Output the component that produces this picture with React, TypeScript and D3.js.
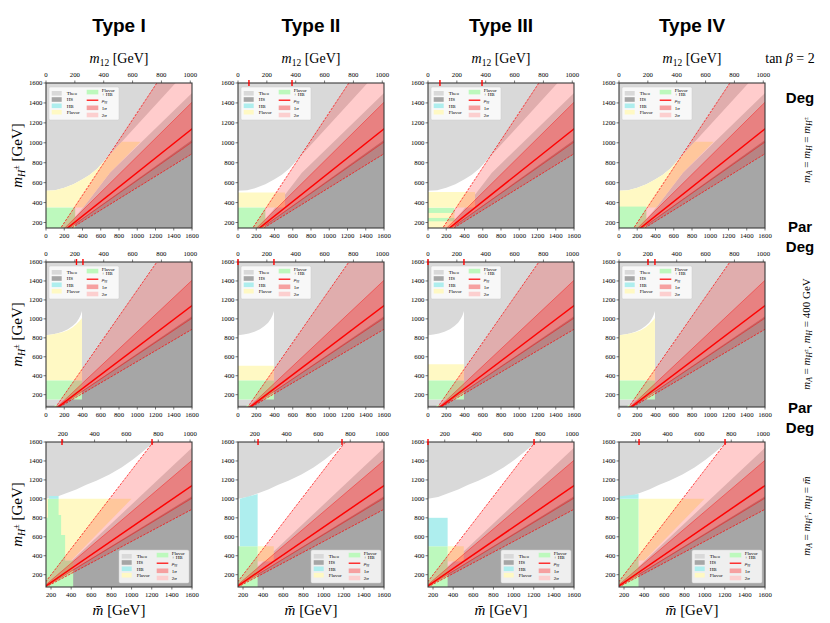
import React from "react";
import * as d3 from "d3";

type Pt = [number, number];

// layout
const colLefts = [46, 238, 428, 619];
const rowTops = [83, 262, 442];
const PW = 146;
const PH = 145;

const SERIF = "'Liberation Serif', 'DejaVu Serif', serif";
const SANS = "'Liberation Sans', Arial, sans-serif";

// labels
const types = ["Type I", "Type II", "Type III", "Type IV"];
const rowTags = [["Deg"], ["Par", "Deg"], ["Par", "Deg"]];
const tanBeta = 2;

// axes
const xDomains: Pt[] = [[0, 1600], [0, 1600], [150, 1600]];
const yDomains: Pt[] = [[145, 1600], [70, 1600], [70, 1600]];
const xTickVals = [
  [0, 200, 400, 600, 800, 1000, 1200, 1400, 1600],
  [0, 200, 400, 600, 800, 1000, 1200, 1400, 1600],
  [200, 400, 600, 800, 1000, 1200, 1400, 1600],
];
const yTickVals = [200, 400, 600, 800, 1000, 1200, 1400, 1600];
const m12TickVals = [
  [0, 200, 400, 600, 800, 1000],
  [0, 200, 400, 600, 800, 1000],
  [200, 400, 600, 800, 1000],
];
// red marks on the top axis (bottom-axis units)
const redMarks = [
  [[], [120, 592], [131, 592], []],
  [[334, 405], [0, 394], [0, 394], [318, 394]],
  [[309, 1203], [349, 1183], [150, 1203], [349, 1203]],
];

// mu_gammagamma bands: common pivot, end points of each edge
const pivot: Pt = [78, 30];
const muEnd: Pt = [1600, 1140];
const sig1UpEnd: Pt = [1600, 1407];
const sig1DnEnd: Pt = [1600, 1007];
const sig2UpEnd: Pt = [1215, 1600];
const sig2DnEnd: Pt = [1600, 890];
const hsEdgeEnd: Pt = [1600, 1027];
const hsFloor = [158, 85, 85];

// theory-allowed (white) region, per row
const theoAllowed: Pt[][] = [
  [[0, 150], [0, 520], [100, 525], [200, 548], [300, 585], [400, 635], [480, 680], [560, 740],
   [1420, 1600], [1600, 1600], [1600, 1500], [700, 700], [408, 350], [220, 150]],
  [[0, 150], [0, 828], [60, 835], [120, 845], [180, 865], [240, 890], [290, 925], [330, 960],
   [360, 1000], [380, 1040], [394, 1082], [394, 150]],
  [[150, 90], [150, 1000], [250, 1020], [350, 1060], [450, 1100], [550, 1150], [650, 1190],
   [780, 1257], [900, 1330], [1013, 1416], [1100, 1490], [1198, 1575], [1230, 1600],
   [1600, 1600], [1600, 1540]],
];

// Flavor (yellow) regions [row][col]
const flavor: Pt[][][][] = [
  [
    [[[0, 350], [0, 520], [100, 525], [200, 548], [300, 585], [400, 635], [480, 680], [560, 740],
      [830, 1010], [1037, 1010], [700, 700], [408, 350]]],
    [[[0, 350], [0, 500], [515, 500], [515, 350]]],
    [[[0, 350], [0, 505], [515, 505], [515, 350]], [[0, 145], [0, 350], [290, 350], [290, 145]]],
    [[[0, 350], [0, 520], [100, 525], [200, 548], [300, 585], [400, 635], [480, 680], [560, 740],
      [830, 1010], [1037, 1010], [700, 700], [408, 350]]],
  ],
  [
    [[[0, 350], [0, 828], [60, 835], [120, 845], [180, 860], [240, 880], [290, 910], [330, 940],
      [365, 975], [394, 1010], [394, 350]]],
    [[[0, 350], [0, 505], [394, 505], [394, 350]]],
    [[[0, 350], [0, 520], [394, 520], [394, 350]]],
    [[[0, 350], [0, 828], [60, 835], [120, 845], [180, 860], [240, 880], [290, 910], [330, 940],
      [365, 975], [394, 1010], [394, 350]]],
  ],
  [
    [[[150, 350], [150, 1000], [1000, 1000], [400, 350]]],
    [[[345, 340], [345, 500], [505, 500], [505, 340]]],
    [[[345, 340], [345, 500], [505, 500], [505, 340]]],
    [[[344, 350], [344, 1000], [1000, 1000], [400, 350]]],
  ],
];

// Flavor + HB (green) regions
const flavorHB: Pt[][][][] = [
  [
    [[[0, 145], [0, 350], [320, 350], [320, 145]]],
    [[[0, 145], [0, 350], [300, 350], [300, 145]]],
    [[[0, 296], [0, 347], [290, 347], [290, 296]], [[0, 212], [0, 246], [290, 246], [290, 212]]],
    [[[0, 145], [0, 360], [300, 360], [300, 145]]],
  ],
  [
    [[[0, 150], [0, 350], [394, 350], [394, 150]], [[95, 72], [95, 92], [125, 92], [125, 72]]],
    [[[0, 150], [0, 350], [394, 350], [394, 150]], [[95, 72], [95, 92], [125, 92], [125, 72]]],
    [[[0, 150], [0, 350], [394, 350], [394, 150]], [[95, 72], [95, 92], [125, 92], [125, 72]]],
    [[[0, 150], [0, 350], [394, 350], [394, 150]], [[95, 72], [95, 92], [125, 92], [125, 72]]],
  ],
  [
    [[[150, 70], [150, 800], [170, 800], [170, 1000], [275, 1000], [275, 830], [300, 830],
      [300, 620], [340, 620], [340, 350], [420, 350], [420, 70]]],
    [[[150, 70], [150, 500], [345, 500], [345, 70]]],
    [[[150, 70], [150, 500], [345, 500], [345, 70]]],
    [[[150, 70], [150, 1000], [344, 1000], [344, 70]]],
  ],
];

// HB (cyan) regions
const hb: Pt[][][][] = [
  [[], [], [], []],
  [[], [], [], []],
  [
    [[[180, 1000], [180, 1030], [275, 1030], [275, 1000]]],
    [[[168, 500], [168, 1000], [345, 1050], [345, 500]]],
    [[[150, 500], [150, 800], [345, 800], [345, 500]]],
    [[[150, 1000], [150, 1025], [344, 1050], [344, 1000]]],
  ],
];

const C = {
  theo: "#d9d9d9",
  hs: "#a6a6a6",
  hb: "#aeeeee",
  flavor: "#fff9c4",
  flavorHB: "#bdf9bd",
  red: "#ff0000",
  frame: "#3a3a3a",
};

const SQRT_SBCB = Math.sqrt(tanBeta / (1 + tanBeta * tanBeta));

function ext(end: Pt, xFar = 4000): Pt {
  const s = (end[1] - pivot[1]) / (end[0] - pivot[0]);
  return [xFar, pivot[1] + s * (xFar - pivot[0])];
}

function Legend({ lx, ly }: { lx: number; ly: number }) {
  const fs = 5;
  const left: [string, string, number][] = [
    ["Theo", C.theo, 6.3],
    ["HS", C.hs, 12.5],
    ["HB", C.hb, 18.8],
    ["Flavor", C.flavor, 25.2],
  ];
  return (
    <g transform={`translate(${lx},${ly})`} fontFamily={SERIF} fontSize={fs}>
      <rect width={70} height={33} rx={1.5} fill="#fff" fillOpacity={0.82} stroke="#cccccc" strokeWidth={0.5} />
      {left.map(([t, col, dy]) => (
        <g key={t}>
          <rect x={2.7} y={dy - 2.3} width={10} height={4.6} fill={col} />
          <text x={17.7} y={dy + 1.7}>{t}</text>
        </g>
      ))}
      <rect x={37.7} y={2.8} width={11.6} height={4.6} fill={C.flavorHB} />
      <text x={52.7} y={4.6}>Flavor</text>
      <text x={52.7} y={9.3}>+ HB</text>
      <line x1={37.7} x2={49.3} y1={13.2} y2={13.2} stroke={C.red} strokeWidth={1.2} />
      <text x={52.7} y={14.8}>
        <tspan fontStyle="italic">μ</tspan>
        <tspan fontSize={3.6} dy={1}>γγ</tspan>
      </text>
      <rect x={37.7} y={18.5} width={11.6} height={4.6} fill="#f6a0a0" />
      <text x={52.7} y={22.5}>1<tspan fontStyle="italic">σ</tspan></text>
      <rect x={37.7} y={25.7} width={11.6} height={4.6} fill="#fccfcf" />
      <text x={52.7} y={29.7}>2<tspan fontStyle="italic">σ</tspan></text>
    </g>
  );
}

function Panel({ r, c }: { r: number; c: number }) {
  const x0 = colLefts[c];
  const y0 = rowTops[r];
  const x = d3.scaleLinear().domain(xDomains[r]).range([x0, x0 + PW]);
  const y = d3.scaleLinear().domain(yDomains[r]).range([y0 + PH, y0]);
  const lineGen = d3
    .line<Pt>()
    .x((d) => x(d[0]))
    .y((d) => y(d[1]));
  const area = (pts: Pt[]) => (lineGen(pts) || "") + "Z";
  const id = `clip-${r}-${c}`;
  const yBottom = yDomains[r][0];
  const legendX = r < 2 ? x0 + 3 : x0 + PW - 73;
  const legendY = r < 2 ? y0 + 4 : y0 + PH - 37;

  return (
    <g>
      <defs>
        <clipPath id={id}>
          <rect x={x0} y={y0} width={PW} height={PH} />
        </clipPath>
      </defs>
      <g clipPath={`url(#${id})`}>
        <rect x={x0} y={y0} width={PW} height={PH} fill={C.theo} />
        <path d={area(theoAllowed[r])} fill="#fff" />
        <path d={area([pivot, ext(hsEdgeEnd), [4000, -2000], [-2000, -2000]])} fill={C.hs} />
        <rect x={x0} y={y(hsFloor[r])} width={PW} height={y(yBottom) - y(hsFloor[r])} fill={C.hs} />
        {flavor[r][c].map((p, i) => <path key={"f" + i} d={area(p)} fill={C.flavor} />)}
        {flavorHB[r][c].map((p, i) => <path key={"g" + i} d={area(p)} fill={C.flavorHB} />)}
        {hb[r][c].map((p, i) => <path key={"h" + i} d={area(p)} fill={C.hb} />)}
        <path d={area([pivot, ext(sig2UpEnd), ext(sig2DnEnd)])} fill={C.red} fillOpacity={0.2} />
        <path d={area([pivot, ext(sig1UpEnd), ext(sig1DnEnd)])} fill={C.red} fillOpacity={0.25} />
        {[sig2UpEnd, sig2DnEnd].map((e, i) => (
          <path key={"d" + i} d={lineGen([pivot, ext(e)]) || ""} fill="none" stroke={C.red}
            strokeWidth={0.7} strokeDasharray="2.5,1.2" />
        ))}
        {[sig1UpEnd, sig1DnEnd].map((e, i) => (
          <path key={"s" + i} d={lineGen([pivot, ext(e)]) || ""} fill="none" stroke={C.red}
            strokeWidth={0.5} strokeOpacity={0.8} />
        ))}
        <path d={lineGen([pivot, ext(muEnd)]) || ""} fill="none" stroke={C.red} strokeWidth={1.5} />
      </g>
      <rect x={x0} y={y0} width={PW} height={PH} fill="none" stroke={C.frame} strokeWidth={1.1} />

      {/* left axis */}
      {yTickVals.map((v) => (
        <g key={"y" + v}>
          <line x1={x0 - 2.5} x2={x0} y1={y(v)} y2={y(v)} stroke={C.frame} strokeWidth={0.7} />
          <text x={x0 - 3.5} y={y(v) + 2.3} textAnchor="end" fontSize={6.8}>{v}</text>
        </g>
      ))}
      {/* bottom axis */}
      {xTickVals[r].map((v) => (
        <g key={"x" + v}>
          <line x1={x(v)} x2={x(v)} y1={y0 + PH} y2={y0 + PH + 2.5} stroke={C.frame} strokeWidth={0.7} />
          <text x={x(v)} y={y0 + PH + 9.8} textAnchor="middle" fontSize={6.8}>{v}</text>
        </g>
      ))}
      {/* top axis: m12 */}
      {m12TickVals[r].map((v) => (
        <g key={"t" + v}>
          <line x1={x(v / SQRT_SBCB)} x2={x(v / SQRT_SBCB)} y1={y0 - 2.5} y2={y0} stroke={C.frame} strokeWidth={0.7} />
          <text x={x(v / SQRT_SBCB)} y={y0 - 6.5} textAnchor="middle" fontSize={6.8}>{v}</text>
        </g>
      ))}
      {redMarks[r][c].map((v, i) => (
        <line key={"r" + i} x1={x(v)} x2={x(v)} y1={y0 - 3} y2={y0 + 3} stroke={C.red} strokeWidth={1.4} />
      ))}
      <Legend lx={legendX} ly={legendY} />
    </g>
  );
}

export default function App() {
  const rows = [0, 1, 2];
  const cols = [0, 1, 2, 3];
  const rightLabelY = [150, 334, 516];
  return (
    <svg
      width={830}
      height={623}
      style={{ position: "absolute", left: 0, top: 0, background: "#fff" }}
      fontFamily={SERIF}
    >
      {types.map((t, c) => (
        <text key={t} x={colLefts[c] + PW / 2} y={32} textAnchor="middle" fontFamily={SANS}
          fontWeight="bold" fontSize={19}>
          {t}
        </text>
      ))}
      {cols.map((c) => (
        <text key={"m12" + c} x={colLefts[c] + PW / 2} y={63} textAnchor="middle" fontSize={14}>
          <tspan fontStyle="italic">m</tspan>
          <tspan fontSize={9.5} dy={3}>12</tspan>
          <tspan dy={-3}> [GeV]</tspan>
        </text>
      ))}
      <text x={790} y={63} textAnchor="middle" fontSize={14}>
        tan <tspan fontStyle="italic">β</tspan> = {tanBeta}
      </text>

      {rows.map((r) => cols.map((c) => <Panel key={`${r}-${c}`} r={r} c={c} />))}

      {rows.map((r) => (
        <text key={"yl" + r} transform={`translate(22,${rowTops[r] + PH / 2}) rotate(-90)`}
          textAnchor="middle" fontSize={15}>
          <tspan fontStyle="italic">m</tspan>
          <tspan fontStyle="italic" fontSize={10} dy={3}>H</tspan>
          <tspan fontSize={8} dy={-6}>±</tspan>
          <tspan dy={3}> [GeV]</tspan>
        </text>
      ))}
      {cols.map((c) => (
        <text key={"xl" + c} x={colLefts[c] + PW / 2} y={615} textAnchor="middle" fontSize={15}>
          <tspan fontStyle="italic">m̄</tspan> [GeV]
        </text>
      ))}

      {rowTags.map((tags, r) =>
        tags.map((t, i) => (
          <text key={`tag${r}${i}`} x={800} y={(r === 0 ? 103 : r === 1 ? 232 : 413) + i * 20}
            textAnchor="middle" fontFamily={SANS} fontWeight="bold" fontSize={15}>
            {t}
          </text>
        ))
      )}
      <text transform={`translate(810,${rightLabelY[0]}) rotate(-90)`} textAnchor="middle" fontSize={11}>
        <tspan fontStyle="italic">m</tspan>
        <tspan fontStyle="italic" fontSize={7.5} dy={2}>A</tspan>
        <tspan dy={-2}> = </tspan>
        <tspan fontStyle="italic">m</tspan>
        <tspan fontStyle="italic" fontSize={7.5} dy={2}>H</tspan>
        <tspan dy={-2}> = </tspan>
        <tspan fontStyle="italic">m</tspan>
        <tspan fontStyle="italic" fontSize={7.5} dy={2}>H</tspan>
        <tspan fontSize={6} dy={-4}>±</tspan>
      </text>
      <text transform={`translate(810,${rightLabelY[1]}) rotate(-90)`} textAnchor="middle" fontSize={11}>
        <tspan fontStyle="italic">m</tspan>
        <tspan fontStyle="italic" fontSize={7.5} dy={2}>A</tspan>
        <tspan dy={-2}> = </tspan>
        <tspan fontStyle="italic">m</tspan>
        <tspan fontStyle="italic" fontSize={7.5} dy={2}>H</tspan>
        <tspan fontSize={6} dy={-4}>±</tspan>
        <tspan dy={2}>, </tspan>
        <tspan fontStyle="italic">m</tspan>
        <tspan fontStyle="italic" fontSize={7.5} dy={2}>H</tspan>
        <tspan dy={-2}> = 400 GeV</tspan>
      </text>
      <text transform={`translate(810,${rightLabelY[2]}) rotate(-90)`} textAnchor="middle" fontSize={11}>
        <tspan fontStyle="italic">m</tspan>
        <tspan fontStyle="italic" fontSize={7.5} dy={2}>A</tspan>
        <tspan dy={-2}> = </tspan>
        <tspan fontStyle="italic">m</tspan>
        <tspan fontStyle="italic" fontSize={7.5} dy={2}>H</tspan>
        <tspan fontSize={6} dy={-4}>±</tspan>
        <tspan dy={2}>, </tspan>
        <tspan fontStyle="italic">m</tspan>
        <tspan fontStyle="italic" fontSize={7.5} dy={2}>H</tspan>
        <tspan dy={-2}> = </tspan>
        <tspan fontStyle="italic">m̄</tspan>
      </text>
    </svg>
  );
}
